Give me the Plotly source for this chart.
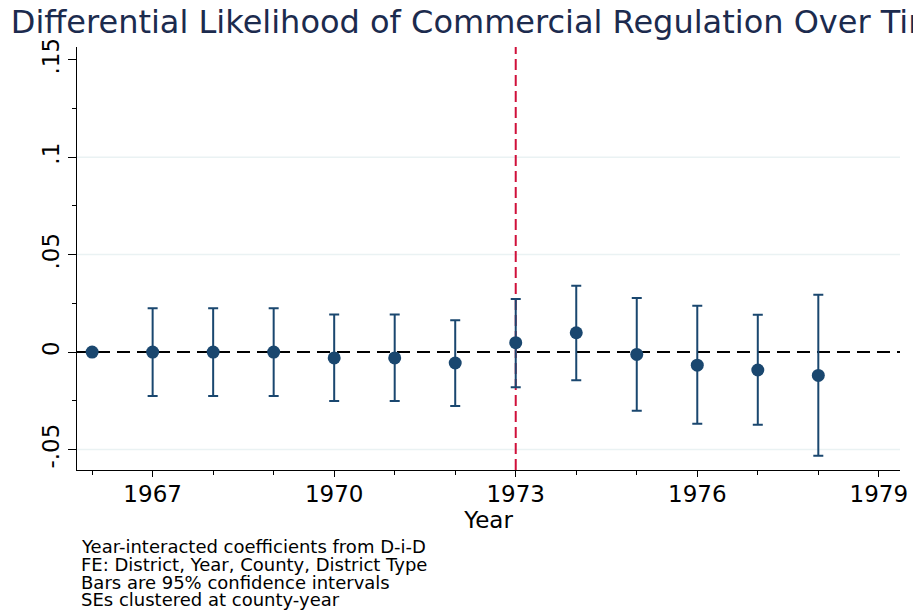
import plotly.graph_objects as go

years = [1966, 1967, 1968, 1969, 1970, 1971, 1972, 1973, 1974, 1975, 1976, 1977, 1978]
coef = [0.0, 0.0, 0.0, 0.0, -0.003, -0.003, -0.0056, 0.0048, 0.0099, -0.0012, -0.0067, -0.0092, -0.012]
ci_low = [0.0, -0.0225, -0.0225, -0.0225, -0.0251, -0.0251, -0.0277, -0.018, -0.0144, -0.0301, -0.0368, -0.0373, -0.0532]
ci_high = [0.0, 0.0225, 0.0225, 0.0225, 0.0193, 0.0193, 0.0163, 0.0272, 0.034, 0.0277, 0.0238, 0.0191, 0.0294]

x_ticks = [1967, 1970, 1973, 1976, 1979]
y_ticks = [-0.05, 0, 0.05, 0.1, 0.15]
y_tick_labels = ["-.05", "0", ".05", ".1", ".15"]
grid_vals = [-0.05, 0.05, 0.1]
treatment_year = 1973

notes = [
    "Year-interacted coefficients from D-i-D",
    "FE: District, Year, County, District Type",
    "Bars are 95% confidence intervals",
    "SEs clustered at county-year",
]

NAVY = "#1a476f"
FONT = "DejaVu Sans"

err_plus = [h - c for h, c in zip(ci_high, coef)]
err_minus = [c - l for c, l in zip(coef, ci_low)]

fig = go.Figure()
fig.add_trace(
    go.Scatter(
        x=years,
        y=coef,
        mode="markers",
        marker=dict(color=NAVY, size=13),
        error_y=dict(
            type="data",
            symmetric=False,
            array=err_plus,
            arrayminus=err_minus,
            color=NAVY,
            thickness=2,
            width=5,
        ),
        showlegend=False,
    )
)

# light horizontal grid (Stata style, no line at the top tick)
for g in grid_vals:
    fig.add_hline(y=g, line=dict(color="#eaf2f3", width=1.5), layer="below")

fig.add_hline(y=0, line=dict(color="black", width=2, dash="13px,7px"), layer="below")
fig.add_vline(x=treatment_year, line=dict(color="#d0103a", width=2, dash="11px,5px"), layer="below")

fig.update_xaxes(
    range=[1965.75, 1979.35],
    tickvals=x_ticks,
    ticks="outside",
    ticklen=6,
    tickcolor="black",
    ticklabelstandoff=-3,
    showline=True,
    linecolor="black",
    linewidth=1,
    showgrid=False,
    zeroline=False,
    minor=dict(dtick=1, tick0=1966, ticks="outside", ticklen=4, tickcolor="black", showgrid=False),
    tickfont=dict(family=FONT, size=23, color="black"),
    title=dict(text="Year", font=dict(family=FONT, size=23, color="black"), standoff=0),
)
fig.update_yaxes(
    range=[-0.0605, 0.1565],
    tickvals=y_ticks,
    ticktext=y_tick_labels,
    tickangle=-90,
    ticks="outside",
    ticklen=8,
    tickcolor="black",
    showline=True,
    linecolor="black",
    linewidth=1,
    showgrid=False,
    zeroline=False,
    minor=dict(dtick=0.025, tick0=0.025, ticks="outside", ticklen=4, tickcolor="black", showgrid=False),
    tickfont=dict(family=FONT, size=23, color="black"),
)

for i, line in enumerate(notes):
    fig.add_annotation(
        text=line,
        xref="paper",
        yref="paper",
        x=0.002,
        y=-0.182 - i * 0.0417,
        xanchor="left",
        yanchor="middle",
        align="left",
        showarrow=False,
        font=dict(family=FONT, size=18, color="black"),
    )

fig.update_layout(
    width=913,
    height=606,
    plot_bgcolor="white",
    paper_bgcolor="white",
    margin=dict(l=69, r=21, t=39, b=144),
    title=dict(
        text="Differential Likelihood of Commercial Regulation Over Time",
        x=0.003,
        xanchor="left",
        y=0.977,
        yanchor="middle",
        font=dict(family=FONT, size=32, color="#1c2b4e"),
    ),
)

fig.write_html("out.html")
